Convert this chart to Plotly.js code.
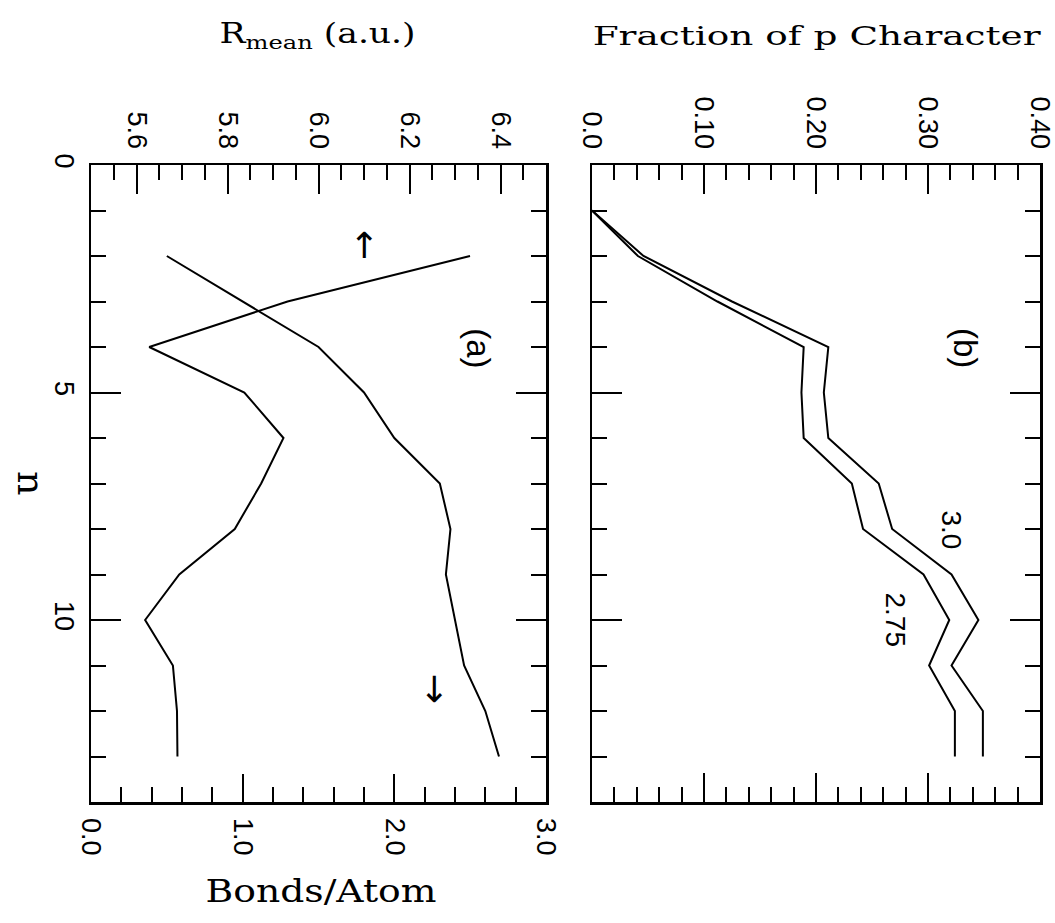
<!DOCTYPE html>
<html>
<head>
<meta charset="utf-8">
<script src="https://cdn.plot.ly/plotly-3.0.1.min.js"></script>
<style>
  html, body { margin: 0; padding: 0; background: #ffffff; }
  #chart { width: 1055px; height: 923px; }
</style>
</head>
<body>
<div id="chart"></div>
<script>
// ---------- data ----------
// panel (a): cluster size n, mean radius and bonds per atom
const nA = [2, 3, 4, 5, 6, 7, 8, 9, 10, 11, 12, 13];
const rMean = [6.333, 5.932, 5.628, 5.837, 5.923, 5.874, 5.816, 5.694, 5.619, 5.680, 5.689, 5.690];
const bondsPerAtom = [0.50, 1.00, 1.50, 1.80, 2.00, 2.30, 2.37, 2.34, 2.40, 2.46, 2.60, 2.69];

// panel (b): fraction of p character for two cutoffs
const nB = [1, 2, 3, 4, 5, 6, 7, 8, 9, 10, 11, 12, 13];
const frac30 = [0.0, 0.046, 0.125, 0.211, 0.207, 0.211, 0.256, 0.268, 0.321, 0.345, 0.321, 0.349, 0.349];
const frac275 = [0.0, 0.041, 0.112, 0.189, 0.187, 0.189, 0.232, 0.242, 0.296, 0.319, 0.301, 0.324, 0.324];

// tick labels
const nTickVals = [0, 5, 10];
const nTickText = ['0', '5', '10'];
const rTickVals = [5.6, 5.8, 6.0, 6.2, 6.4];
const rTickText = ['5.6', '5.8', '6.0', '6.2', '6.4'];
const bTickVals = [0, 1, 2, 3];
const bTickText = ['0.0', '1.0', '2.0', '3.0'];
const fTickVals = [0.0, 0.1, 0.2, 0.3, 0.4];
const fTickText = ['0.0', '0.10', '0.20', '0.30', '0.40'];

// ---------- layout helpers ----------
const W = 1055, H = 923;
const leftDom = [91 / W, 546 / W];
const rightDom = [592 / W, 1040 / W];
const yDom = [1 - 802 / H, 1 - 165 / H];

const tickFont = { family: 'Liberation Sans, Arial, sans-serif', size: 27, color: '#000' };
const serifFont = (s) => ({ family: 'DejaVu Serif, serif', size: s, color: '#000' });
const sansFont = (s) => ({ family: 'Liberation Sans, Arial, sans-serif', size: s, color: '#000' });

function axisBase(extra) {
  return Object.assign({
    showline: true, linecolor: '#000', linewidth: 2.5,
    ticks: 'inside', tickcolor: '#000', tickwidth: 2,
    showgrid: false, zeroline: false, automargin: false,
    tickmode: 'array', tickangle: 90, tickfont: tickFont,
    ticklabeloverflow: 'allow', fixedrange: true
  }, extra);
}
function minor(dtick, tick0) {
  return { ticks: 'inside', ticklen: 15, tickwidth: 2, tickcolor: '#000', dtick: dtick, tick0: tick0, showgrid: false };
}

const lineStyle = { color: '#000', width: 2 };

const traces = [
  { x: rMean, y: nA, xaxis: 'x2', yaxis: 'y', mode: 'lines', line: lineStyle, name: 'R_mean', hoverinfo: 'skip' },
  { x: bondsPerAtom, y: nA, xaxis: 'x', yaxis: 'y', mode: 'lines', line: lineStyle, name: 'Bonds/Atom', hoverinfo: 'skip' },
  { x: frac30, y: nB, xaxis: 'x3', yaxis: 'y2', mode: 'lines', line: lineStyle, name: '3.0', hoverinfo: 'skip' },
  { x: frac275, y: nB, xaxis: 'x3', yaxis: 'y2', mode: 'lines', line: lineStyle, name: '2.75', hoverinfo: 'skip' }
];

// horizontal titles: [text, centre x px, centre y px, font size, target width px]
const titleSpecs = [
  ['R<sub>mean</sub> (a.u.)', 317, 35, 27, 196],
  ['Fraction of p Character', 817, 36, 26, 448],
  ['Bonds/Atom', 321, 891, 31, 231]
];

const annotations = titleSpecs.map(t => ({
  xref: 'paper', yref: 'paper', x: t[1] / W, y: 1 - t[2] / H, xanchor: 'center', yanchor: 'middle',
  text: t[0], showarrow: false, font: serifFont(t[3])
}));

annotations.push(
  { xref: 'paper', yref: 'paper', x: 31 / W, y: 1 - 483 / H, xanchor: 'center', yanchor: 'middle',
    text: 'n', textangle: 90, showarrow: false, font: serifFont(38) },
  // panel labels
  { xref: 'x', yref: 'y', x: 2.55, y: 4.02, text: '(a)', textangle: 90, showarrow: false, font: sansFont(33) },
  { xref: 'x3', yref: 'y2', x: 0.333, y: 4.02, text: '(b)', textangle: 90, showarrow: false, font: sansFont(33) },
  // curve labels
  { xref: 'x3', yref: 'y2', x: 0.321, y: 8.02, text: '3.0', textangle: 90, showarrow: false, font: sansFont(28) },
  { xref: 'x3', yref: 'y2', x: 0.271, y: 10.0, text: '2.75', textangle: 90, showarrow: false, font: sansFont(28) },
  // arrows marking which axis each curve of (a) uses
  { xref: 'x', yref: 'y', x: 1.80, y: 1.78, text: '\u2191', showarrow: false,
    font: { family: 'DejaVu Sans, sans-serif', size: 36, color: '#000' } },
  { xref: 'x', yref: 'y', x: 2.26, y: 11.52, text: '\u2193', showarrow: false,
    font: { family: 'DejaVu Sans, sans-serif', size: 36, color: '#000' } }
);

const layout = {
  width: W, height: H,
  margin: { l: 0, r: 0, t: 0, b: 0, pad: 0 },
  paper_bgcolor: '#fff', plot_bgcolor: '#fff',
  showlegend: false,
  font: { family: 'Liberation Sans, Arial, sans-serif', color: '#000' },
  xaxis: axisBase({
    domain: leftDom, range: [0, 3], anchor: 'y', side: 'bottom',
    tickvals: bTickVals, ticktext: bTickText, ticklen: 28, ticklabelstandoff: 8,
    minor: minor(0.2, 0)
  }),
  xaxis2: axisBase({
    domain: leftDom, range: [5.5, 6.5], anchor: 'y', side: 'top', overlaying: 'x',
    tickvals: rTickVals, ticktext: rTickText, ticklen: 29, ticklabelstandoff: 4,
    minor: minor(0.05, 5.5)
  }),
  yaxis: axisBase({
    domain: yDom, range: [14, 0], anchor: 'x', side: 'left', mirror: 'ticks',
    tickvals: nTickVals, ticktext: nTickText, ticklen: 30, ticklabelstandoff: 1,
    minor: minor(1, 0)
  }),
  xaxis3: axisBase({
    domain: rightDom, range: [0, 0.4], anchor: 'y2', side: 'top', mirror: 'ticks',
    tickvals: fTickVals, ticktext: fTickText, ticklen: 29, ticklabelstandoff: 4,
    minor: minor(0.02, 0)
  }),
  yaxis2: axisBase({
    domain: yDom, range: [14, 0], anchor: 'x3', side: 'left', mirror: 'ticks',
    tickvals: nTickVals, ticktext: nTickText, ticklen: 30, showticklabels: false,
    minor: minor(1, 0)
  }),
  annotations: annotations
};

Plotly.newPlot('chart', traces, layout, { staticPlot: true, displayModeBar: false }).then(gd => {
  // the original lettering of the titles is wide; stretch the serif text to the measured widths
  titleSpecs.forEach((t, i) => {
    const el = gd.querySelector('g.annotation[data-index="' + i + '"] text.annotation-text');
    if (el) {
      el.setAttribute('textLength', t[4]);
      el.setAttribute('lengthAdjust', 'spacingAndGlyphs');
    }
  });
});
</script>
</body>
</html>
